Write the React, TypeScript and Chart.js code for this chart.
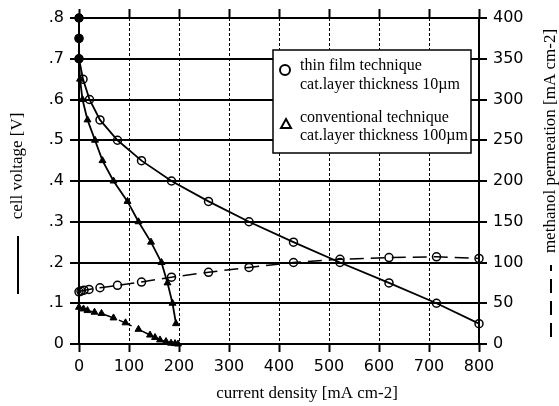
import React, { useEffect, useRef } from 'react';
import { Chart, registerables } from 'chart.js';

Chart.register(...registerables);

// ---- data ----
const thinVoltX = [0, 0, 0, 8, 21, 42, 77, 125, 185, 259, 340, 429, 522, 620, 715, 800];
const thinVoltY = [0.8, 0.75, 0.7, 0.65, 0.6, 0.55, 0.5, 0.45, 0.4, 0.35, 0.3, 0.25, 0.2, 0.15, 0.1, 0.05];
const convVoltX = [0, 0, 0, 2, 7, 17, 32, 47, 69, 97, 119, 144, 165, 177, 187, 194];
const convVoltY = [0.8, 0.75, 0.7, 0.65, 0.6, 0.55, 0.5, 0.45, 0.4, 0.35, 0.3, 0.25, 0.2, 0.15, 0.1, 0.05];
const thinPermX = [0, 4, 10, 20, 42, 77, 125, 185, 259, 340, 429, 522, 620, 715, 800];
const thinPermY = [64, 65, 66, 67, 69, 72, 76, 82, 88, 94, 100, 104, 106, 107, 105];
const convPermX = [0, 9, 17, 31, 45, 69, 93, 119, 142, 152, 162, 174, 184, 192, 198];
const convPermY = [45, 43, 41, 39, 37.5, 32, 26, 18, 11, 8, 5, 3, 1, 0.5, 0];

const xTickLabels = ['0', '100', '200', '300', '400', '500', '600', '700', '800'];
const yTickLabels = ['0', '.1', '.2', '.3', '.4', '.5', '.6', '.7', '.8'];
const y2TickLabels = ['0', '50', '100', '150', '200', '250', '300', '350', '400'];

const xTitle = 'current density [mA cm-2]';
const yTitle = 'cell voltage [V]';
const y2Title = 'methanol permeation [mA cm-2]';
const legendLines = [
  ['thin film technique', 'cat.layer thickness 10\u00b5m'],
  ['conventional technique', 'cat.layer thickness 100\u00b5m'],
];

const pts = (xs: number[], ys: number[]) => xs.map((x, i) => ({ x, y: ys[i] }));

const SERIF = '"Liberation Serif", "Times New Roman", serif';
const SANS = '"DejaVu Sans", sans-serif';

const decor = {
  id: 'decor',
  afterDraw(chart: any) {
    const ctx = chart.ctx as CanvasRenderingContext2D;
    ctx.save();
    ctx.fillStyle = '#000';
    ctx.strokeStyle = '#000';
    ctx.font = '17px ' + SERIF;
    ctx.textAlign = 'center';
    ctx.textBaseline = 'middle';
    // x title
    ctx.fillText(xTitle, 307, 394);
    // left title
    ctx.save();
    ctx.translate(18, 166);
    ctx.rotate(-Math.PI / 2);
    ctx.fillText(yTitle, 0, 0);
    ctx.restore();
    ctx.lineWidth = 2;
    ctx.beginPath();
    ctx.moveTo(18, 236);
    ctx.lineTo(18, 294);
    ctx.stroke();
    // right title
    ctx.save();
    ctx.translate(551, 141);
    ctx.rotate(-Math.PI / 2);
    ctx.fillText(y2Title, 0, 0);
    ctx.restore();
    ctx.save();
    ctx.setLineDash([14, 8]);
    ctx.beginPath();
    ctx.moveTo(551, 337);
    ctx.lineTo(551, 265);
    ctx.stroke();
    ctx.restore();

    // legend
    ctx.fillStyle = '#fff';
    ctx.fillRect(273, 50, 198, 103);
    ctx.lineWidth = 1.5;
    ctx.strokeRect(273, 50, 198, 103);
    ctx.fillStyle = '#000';
    ctx.font = '16px ' + SERIF;
    ctx.textAlign = 'left';
    ctx.textBaseline = 'alphabetic';
    ctx.fillText(legendLines[0][0], 300, 70);
    ctx.fillText(legendLines[0][1], 300, 89);
    ctx.fillText(legendLines[1][0], 300, 122);
    ctx.fillText(legendLines[1][1], 300, 140);
    ctx.lineWidth = 2;
    ctx.beginPath();
    ctx.arc(285, 70, 5, 0, Math.PI * 2);
    ctx.stroke();
    ctx.beginPath();
    ctx.moveTo(286, 119);
    ctx.lineTo(291, 128);
    ctx.lineTo(281, 128);
    ctx.closePath();
    ctx.stroke();
    ctx.restore();
  },
};

export default function App() {
  const ref = useRef<HTMLCanvasElement>(null);
  useEffect(() => {
    if (!ref.current) return;
    const open = 'rgba(0,0,0,0)';
    const chart = new Chart(ref.current, {
      type: 'scatter',
      data: {
        datasets: [
          {
            label: 'thin film voltage',
            data: pts(thinVoltX, thinVoltY),
            showLine: true,
            borderColor: '#000',
            borderWidth: 1.8,
            pointStyle: 'circle',
            pointRadius: thinVoltX.map((_, i) => (i < 3 ? 4 : 4)),
            pointBackgroundColor: thinVoltX.map((_, i) => (i < 3 ? '#000' : open)),
            pointBorderColor: '#000',
            pointBorderWidth: 1.5,
            yAxisID: 'y',
            clip: false,
          },
          {
            label: 'conventional voltage',
            data: pts(convVoltX, convVoltY),
            showLine: true,
            borderColor: '#000',
            borderWidth: 1.8,
            pointStyle: convVoltX.map((_, i) => (i < 3 ? 'circle' : 'triangle')),
            pointRadius: 4,
            pointBackgroundColor: '#000',
            pointBorderColor: '#000',
            pointBorderWidth: 1,
            yAxisID: 'y',
            clip: false,
          },
          {
            label: 'thin film permeation',
            data: pts(thinPermX, thinPermY),
            showLine: true,
            borderColor: '#000',
            borderWidth: 1.5,
            borderDash: [14, 7],
            pointStyle: 'circle',
            pointRadius: 4,
            pointBackgroundColor: open,
            pointBorderColor: '#000',
            pointBorderWidth: 1.5,
            yAxisID: 'y2',
            clip: false,
          },
          {
            label: 'conventional permeation',
            data: pts(convPermX, convPermY),
            showLine: true,
            borderColor: '#000',
            borderWidth: 1.5,
            borderDash: [14, 7],
            pointStyle: 'triangle',
            pointRadius: 4,
            pointBackgroundColor: '#000',
            pointBorderColor: '#000',
            pointBorderWidth: 1,
            yAxisID: 'y2',
            clip: false,
          },
        ],
      },
      options: {
        responsive: false,
        animation: false,
        events: [],
        layout: { padding: 0 },
        plugins: { legend: { display: false }, tooltip: { enabled: false } },
        scales: {
          x: {
            type: 'linear',
            position: 'bottom',
            min: 0,
            max: 800,
            afterFit: (s: any) => { s.height = 62; },
            ticks: {
              stepSize: 100,
              padding: 5,
              color: '#000',
              font: { family: SANS, size: 16 },
              maxRotation: 0,
              callback: (_v: any, i: number) => xTickLabels[i],
            },
            grid: { color: '#000', lineWidth: 1, tickLength: 8, tickWidth: 2, tickColor: '#000' },
            border: { display: true, color: '#000', width: 2, dash: [3, 2] },
          },
          xt: {
            type: 'linear',
            position: 'top',
            min: 0,
            max: 800,
            afterFit: (s: any) => { s.height = 18; },
            ticks: { stepSize: 100, display: false },
            grid: { drawOnChartArea: false, color: '#000', tickLength: 9, tickWidth: 2, tickColor: '#000' },
            border: { display: true, color: '#000', width: 2 },
          },
          y: {
            type: 'linear',
            position: 'left',
            min: 0,
            max: 0.8,
            afterFit: (s: any) => { s.width = 79; },
            ticks: {
              stepSize: 0.1,
              padding: 6,
              color: '#000',
              font: { family: SANS, size: 16 },
              callback: (_v: any, i: number) => yTickLabels[i],
            },
            grid: { color: '#000', lineWidth: 2, tickLength: 9, tickWidth: 2 },
            border: { display: true, color: '#000', width: 2 },
          },
          y2: {
            type: 'linear',
            position: 'right',
            min: 0,
            max: 400,
            afterFit: (s: any) => { s.width = 80; },
            ticks: {
              stepSize: 50,
              padding: 6,
              color: '#000',
              font: { family: SANS, size: 16 },
              callback: (_v: any, i: number) => y2TickLabels[i],
            },
            grid: { drawOnChartArea: false, color: '#000', lineWidth: 2, tickLength: 8, tickWidth: 2 },
            border: { display: true, color: '#000', width: 2 },
          },
        },
      },
      plugins: [decor],
    });
    return () => chart.destroy();
  }, []);
  return (
    <div style={{ position: 'absolute', left: 0, top: 0, width: 559, height: 406, background: '#fff' }}>
      <canvas ref={ref} width={559} height={406} style={{ width: 559, height: 406, display: 'block' }} />
    </div>
  );
}
